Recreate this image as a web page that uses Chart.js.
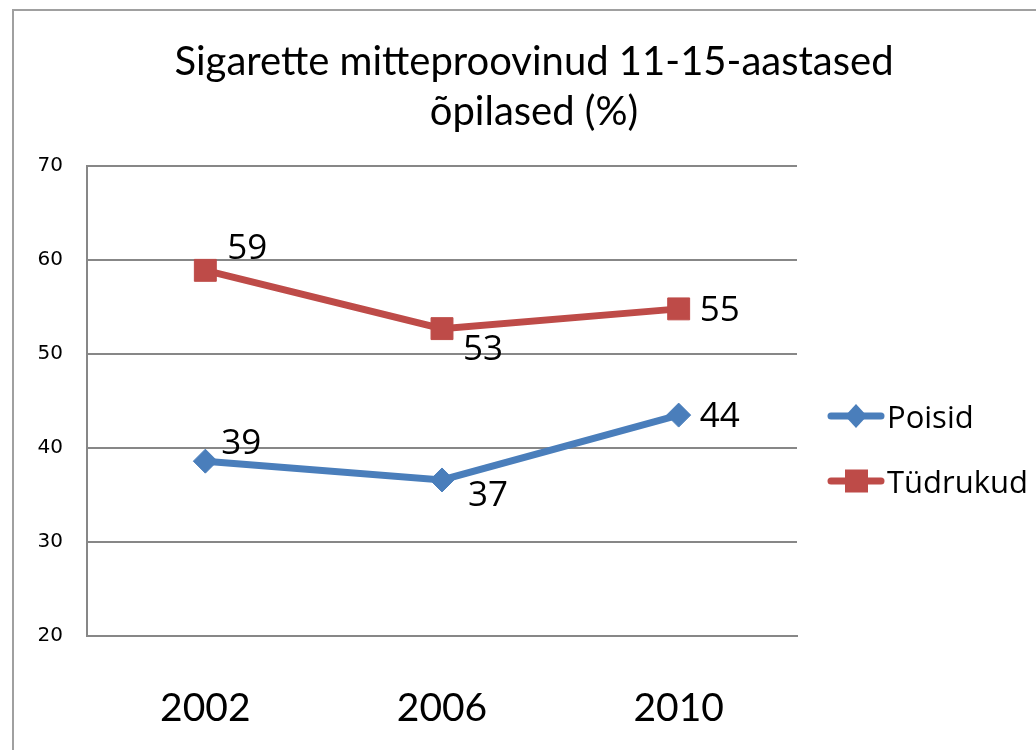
<!DOCTYPE html>
<html>
<head>
<meta charset="utf-8">
<script src="https://cdn.jsdelivr.net/npm/chart.js@4/dist/chart.umd.min.js"></script>
<style>
  html, body { margin: 0; padding: 0; background: #fff; overflow: hidden; }
  .frame { position: absolute; left: 12px; top: 9px; width: 1100px; height: 800px; border: 2px solid #a0a0a0; }
  canvas { position: absolute; left: 0; top: 0; }
</style>
</head>
<body>
<div class="frame"></div>
<canvas id="chart" width="1036" height="750"></canvas>
<script>
const years = ['2002', '2006', '2010']
const poisid = [38.6, 36.6, 43.5]
const tudrukud = [58.9, 52.7, 54.8]
const titleLines = ['Sigarette mitteproovinud 11-15-aastased', 'õpilased (%)']

const BLUE = '#4a7ebb'
const RED = '#be4b48'
const GRID = '#878787'

// label placement next to each point, per dataset [dx, dy]
const labelShift = [
  [[18, -19], [28, 14], [23, 0]],
  [[24, -23], [23, 19], [23, 0]]
]

const valueLabels = {
  id: 'valueLabels',
  afterDatasetsDraw(chart) {
    const ctx = chart.ctx
    ctx.save()
    ctx.font = '35px "Open Sans"'
    ctx.fillStyle = '#000'
    ctx.textAlign = 'left'
    ctx.textBaseline = 'alphabetic'
    chart.data.datasets.forEach((ds, di) => {
      chart.getDatasetMeta(di).data.forEach((pt, i) => {
        const [dx, dy] = labelShift[di][i]
        ctx.fillText(String(Math.round(ds.data[i])), pt.x + dx - 2, pt.y + dy + 12)
      })
    })
    ctx.restore()
  }
}

const sideLegend = {
  id: 'sideLegend',
  afterDraw(chart) {
    const ctx = chart.ctx
    const x0 = 828
    const rows = [416, 481]
    ctx.save()
    chart.data.datasets.forEach((ds, di) => {
      const y = rows[di]
      ctx.strokeStyle = ds.borderColor
      ctx.lineWidth = 7
      ctx.lineCap = 'round'
      ctx.beginPath()
      ctx.moveTo(x0 + 3, y)
      ctx.lineTo(x0 + 53, y)
      ctx.stroke()
      ctx.fillStyle = ds.borderColor
      if (ds.pointStyle === 'rect') {
        ctx.fillRect(x0 + 17, y - 11.5, 23, 23)
      } else {
        ctx.beginPath()
        ctx.moveTo(x0 + 28, y - 12)
        ctx.lineTo(x0 + 39, y)
        ctx.lineTo(x0 + 28, y + 12)
        ctx.lineTo(x0 + 17, y)
        ctx.closePath()
        ctx.fill()
      }
      ctx.fillStyle = '#000'
      ctx.font = '31px "Open Sans"'
      ctx.textBaseline = 'alphabetic'
      ctx.fillText(ds.label, x0 + 59, y + 12)
    })
    ctx.restore()
  }
}

new Chart(document.getElementById('chart'), {
  type: 'line',
  data: {
    labels: years,
    datasets: [
      {
        label: 'Poisid',
        data: poisid,
        borderColor: BLUE,
        backgroundColor: BLUE,
        borderWidth: 7,
        pointStyle: 'rectRot',
        pointRadius: 12,
        pointBorderWidth: 1,
        pointBackgroundColor: BLUE,
        pointBorderColor: BLUE,
        tension: 0
      },
      {
        label: 'Tüdrukud',
        data: tudrukud,
        borderColor: RED,
        backgroundColor: RED,
        borderWidth: 7,
        pointStyle: 'rect',
        pointRadius: 15.5,
        pointBorderWidth: 1,
        pointBackgroundColor: RED,
        pointBorderColor: RED,
        tension: 0
      }
    ]
  },
  options: {
    responsive: false,
    animation: false,
    devicePixelRatio: 1,
    layout: {padding: {left: 32, right: 0, top: 0, bottom: 0}},
    plugins: {
      legend: {display: false},
      tooltip: {enabled: false},
      title: {
        display: true,
        text: titleLines,
        color: '#000',
        font: {family: 'Lato', size: 40, weight: 'normal', lineHeight: 1.25},
        padding: {top: 37, bottom: 29}
      }
    },
    scales: {
      x: {
        offset: true,
        afterFit(scale) { scale.height = 114 },
        grid: {display: false, drawTicks: false},
        border: {display: true, color: GRID, width: 2},
        ticks: {
          color: '#000',
          padding: 49,
          font: {family: 'Lato', size: 39}
        }
      },
      y: {
        min: 20,
        max: 70,
        afterFit(scale) { scale.width = 55 },
        grid: {color: GRID, lineWidth: 2, drawTicks: false},
        border: {display: true, color: GRID, width: 2},
        ticks: {
          stepSize: 10,
          color: '#000',
          padding: 24,
          font: {family: 'DejaVu Sans', size: 20}
        }
      },
      // empty right-hand axis keeps room for the legend
      yr: {
        position: 'right',
        afterFit(scale) { scale.width = 239 },
        grid: {display: false, drawTicks: false},
        border: {display: false},
        ticks: {display: false}
      }
    }
  },
  plugins: [valueLabels, sideLegend]
})
</script>
</body>
</html>
